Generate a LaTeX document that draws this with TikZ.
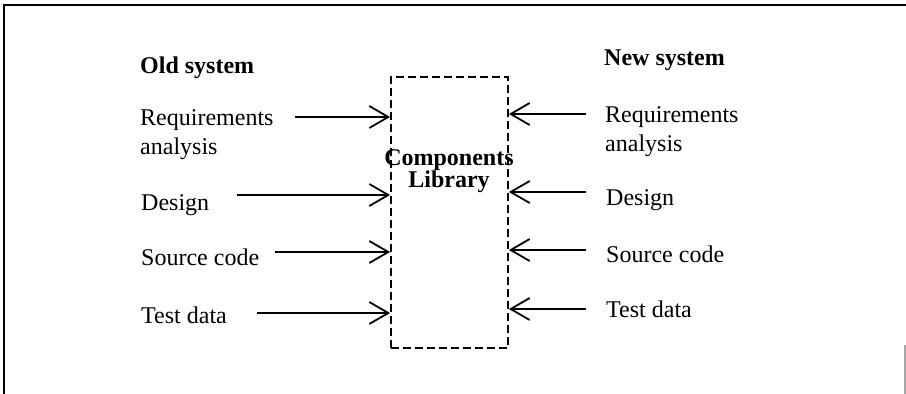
\documentclass[tikz,border=0pt]{standalone}
\usepackage{fontspec}
\setmainfont{Liberation Serif}
\usetikzlibrary{arrows.meta}
\newcommand{\lblfont}{\fontsize{24}{29}\selectfont}
\newcommand{\ttlfont}{\fontsize{24}{20}\selectfont\bfseries}
\newcommand{\twolines}[2]{\begin{tabular}[t]{@{}l@{}}#1\\#2\end{tabular}}
\tikzset{
  lbl/.style={anchor=base west, inner sep=0pt, font=\lblfont},
  hdr/.style={anchor=base west, inner sep=0pt, font=\lblfont\bfseries},
  feed/.style={line width=1.8pt, -{Straight Barb[length=19pt, width=22pt]}},
  libbox/.style={draw, line width=1.8pt, dash pattern=on 8pt off 4pt, inner sep=0pt},
}
\begin{document}
\begin{tikzpicture}[x=1pt, y=-1pt]
\useasboundingbox (0,0) rectangle (906,394);
% page frame
\draw[line width=1.5pt] (4,394) -- (4,5) -- (906,5);
\draw[line width=1.2pt, gray!70] (905,345) -- (905,394);

% the shared library
\node[libbox, minimum width=117pt, minimum height=271pt] (box) at (449.5,212.5) {};
\node[anchor=base, inner sep=0pt, font=\ttlfont] (lib) at (449,165)
  {\begin{tabular}[t]{@{}c@{}}Components\\Library\end{tabular}};

% old system side
\node[hdr] (old) at (140,73) {Old system};
\node[lbl] (oreq) at (140,125) {\twolines{Requirements}{analysis}};
\node[lbl] (odes) at (141,210) {Design};
\node[lbl] (osrc) at (141,265) {Source code};
\node[lbl] (otst) at (141,323) {Test data};

% new system side
\node[hdr] (new) at (604,65) {New system};
\node[lbl] (nreq) at (605,122) {\twolines{Requirements}{analysis}};
\node[lbl] (ndes) at (606,205) {Design};
\node[lbl] (nsrc) at (606,262) {Source code};
\node[lbl] (ntst) at (606,317) {Test data};

% arrow tails
\coordinate (oa1) at (295,117);
\coordinate (oa2) at (237,195);
\coordinate (oa3) at (275,252);
\coordinate (oa4) at (257,313);
\coordinate (na1) at (586,114);
\coordinate (na2) at (586,192);
\coordinate (na3) at (586,250);
\coordinate (na4) at (586,309);

\foreach \c in {oa1,oa2,oa3,oa4}
  \draw[feed] (\c) -- (\c -| box.west);
\foreach \c in {na1,na2,na3,na4}
  \draw[feed] (\c) -- (\c -| box.east);
\end{tikzpicture}
\end{document}
